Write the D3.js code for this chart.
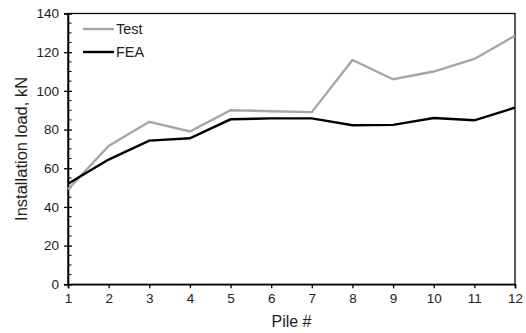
<!DOCTYPE html>
<html><head><meta charset="utf-8">
<script src="https://cdn.jsdelivr.net/npm/d3@7"></script>
<style>body{margin:0;background:#fff}svg{display:block}text{font-family:Arial,"Liberation Sans",sans-serif;fill:#222}</style>
</head><body><svg id="c" width="526" height="333"></svg>
<script>
const piles = [1,2,3,4,5,6,7,8,9,10,11,12];
const testLoad = [49,71.5,84,79,90,89.5,89,116,106,110,116.5,128.5];
const feaLoad = [52,64.5,74.3,75.5,85.3,85.8,85.8,82.2,82.4,86,84.8,91.3];
const yTicks = [0,20,40,60,80,100,120,140];
const seriesNames = ["Test","FEA"];
const seriesColors = ["#a6a6a6","#000000"];

const svg = d3.select("#c");
const m = {l:68,r:11,t:13.5,b:48.7};
const W = 526, H = 333;
const x = d3.scaleLinear().domain([1,12]).range([m.l, W-m.r]);
const y = d3.scaleLinear().domain([0,140]).range([H-m.b, m.t]);

// frame
svg.append("rect").attr("x",m.l).attr("y",m.t).attr("width",W-m.r-m.l).attr("height",H-m.b-m.t)
  .attr("fill","none").attr("stroke","#000").attr("stroke-width",1.3);

// minor y ticks (inside)
const minor = d3.range(0,141,5).filter(v=>v%20!==0);
svg.append("g").selectAll("line").data(minor).join("line")
  .attr("x1",m.l).attr("x2",m.l+3.5).attr("y1",d=>y(d)).attr("y2",d=>y(d))
  .attr("stroke","#000").attr("stroke-width",1);

// y axis
const ya = svg.append("g").attr("transform",`translate(${m.l},0)`)
  .call(d3.axisLeft(y).tickValues(yTicks).tickSize(4).tickPadding(5));
ya.select(".domain").attr("stroke","#000").attr("stroke-width",1.6);
ya.selectAll(".tick line").attr("x2",4).attr("x1",-4).attr("stroke-width",1.3);
ya.selectAll("text").style("font-size","13.5px").attr("fill","#222").style("font-family","Arial, 'Liberation Sans', sans-serif");

// x axis
const xa = svg.append("g").attr("transform",`translate(0,${H-m.b})`)
  .call(d3.axisBottom(x).tickValues(piles).tickFormat(d3.format("d")).tickSize(4).tickPadding(5));
xa.select(".domain").attr("stroke","#000").attr("stroke-width",1.6);
xa.selectAll(".tick line").attr("stroke-width",1.3);
xa.selectAll("text").style("font-size","13.5px").attr("fill","#222").style("font-family","Arial, 'Liberation Sans', sans-serif");

// titles
svg.append("text").attr("x",(m.l+W-m.r)/2).attr("y",327).attr("text-anchor","middle")
  .style("font-size","16px").text("Pile #");
svg.append("text").attr("transform",`translate(27,${(m.t+H-m.b)/2}) rotate(-90)`).attr("text-anchor","middle")
  .style("font-size","16.5px").text("Installation load, kN");

// lines
const line = d3.line().x((d,i)=>x(piles[i])).y(d=>y(d));
[testLoad, feaLoad].forEach((s,k)=>{
  svg.append("path").attr("d",line(s)).attr("fill","none")
    .attr("stroke",seriesColors[k]).attr("stroke-width",2.4).attr("stroke-linejoin","miter");
});

// legend
seriesNames.forEach((n,k)=>{
  const ly = 29 + k*23;
  svg.append("line").attr("x1",83).attr("x2",114).attr("y1",ly).attr("y2",ly)
    .attr("stroke",seriesColors[k]).attr("stroke-width",2.4);
  svg.append("text").attr("x",116).attr("y",ly+5).style("font-size","14.5px").text(n);
});
</script></body></html>
